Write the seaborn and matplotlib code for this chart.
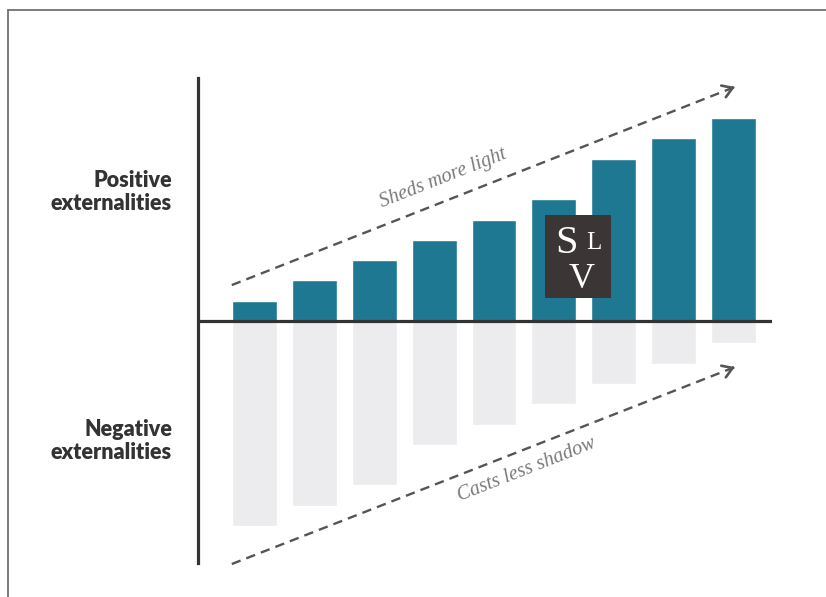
import numpy as np
import pandas as pd
import matplotlib.pyplot as plt
import seaborn as sns
from matplotlib.lines import Line2D
from matplotlib.patches import Rectangle

# data (units = bar steps)
steps = ['1', '2', '3', '4', '5', '6', '7', '8', '9']
positive = [1.0, 2.0, 3.0, 4.0, 5.0, 6.0, 8.0, 9.0, 10.0]
negative = [-10.1, -9.1, -8.1, -6.1, -5.1, -4.1, -3.1, -2.1, -1.1]

teal = '#1f7891'
shade = '#ececee'
ink = '#333333'

sns.set_style('white')
plt.rcParams['font.family'] = ['Lato', 'DejaVu Sans']

fig = plt.figure(figsize=(8.26, 5.97), dpi=100)
ax = fig.add_axes([198 / 826, 1 - 563 / 597, (772 - 198) / 826, (563 - 78) / 597])

df = pd.DataFrame({'step': steps, 'pos': positive, 'neg': negative})
sns.barplot(data=df, x='step', y='pos', color=teal, saturation=1, width=0.75, ax=ax)
sns.barplot(data=df, x='step', y='neg', color=shade, saturation=1, width=0.75, ax=ax)

ax.set_xlim(-0.94, 8.64)
ax.set_ylim(-11.92, 11.97)
ax.axhline(0, color=ink, lw=2.3, zorder=5)
for s in ['top', 'right', 'bottom']:
    ax.spines[s].set_visible(False)
ax.spines['left'].set_color(ink)
ax.spines['left'].set_linewidth(2.3)
ax.set_xticks([])
ax.set_yticks([])
ax.set_xlabel('')
ax.set_ylabel('')

# dashed trend arrows
dash_col = '#555555'
for (x0, y0), (x1, y1) in [((-0.376, 1.77), (8.02, 11.53)),
                           ((-0.376, -11.97), (8.02, -2.27))]:
    ax.plot([x0, x1], [y0, y1], color=dash_col, lw=1.7, ls=(0, (4, 2.6)),
            clip_on=False, zorder=4)
    dx, dy = (x1 - x0) * 0.004, (y1 - y0) * 0.004
    ax.annotate('', xy=(x1, y1), xytext=(x1 - dx, y1 - dy),
                arrowprops=dict(arrowstyle='->,head_length=0.7,head_width=0.45',
                                color=dash_col, lw=1.9),
                annotation_clip=False)

ax.text(3.15, 7.0, 'Sheds more light', rotation=21.5, rotation_mode='anchor',
        ha='center', va='center', fontsize=14.5, style='italic',
        family='Liberation Serif', color='#7a7a7a')
ax.text(4.55, -7.35, 'Casts less shadow', rotation=21.5, rotation_mode='anchor',
        ha='center', va='center', fontsize=14.5, style='italic',
        family='Liberation Serif', color='#7a7a7a')

# side labels
fig.text(172 / 826, 1 - 192 / 597, 'Positive\nexternalities', ha='right', va='center',
         fontsize=15.5, fontweight='heavy', color=ink, linespacing=1.1)
fig.text(172 / 826, 1 - 441 / 597, 'Negative\nexternalities', ha='right', va='center',
         fontsize=15.5, fontweight='heavy', color=ink, linespacing=1.1)

# logo box
fig.add_artist(Rectangle((545 / 826, 1 - 298 / 597), 66 / 826, 83 / 597,
                         transform=fig.transFigure, facecolor='#3b3536',
                         edgecolor='none', zorder=10))
fig.text(566 / 826, 1 - 244 / 597, 'S', ha='center', va='center', fontsize=29,
         family='Liberation Serif', color='white', zorder=11)
fig.text(594 / 826, 1 - 243 / 597, 'L', ha='center', va='center', fontsize=18,
         family='Liberation Serif', color='white', zorder=11)
fig.text(582 / 826, 1 - 279 / 597, 'V', ha='center', va='center', fontsize=26,
         family='Liberation Serif', color='white', zorder=11)

# thin frame of the original image
fig.add_artist(Line2D([8 / 826, 8 / 826], [0, 1 - 10 / 597], transform=fig.transFigure,
                      color='#666666', lw=1.2))
fig.add_artist(Line2D([8 / 826, 1], [1 - 10 / 597, 1 - 10 / 597], transform=fig.transFigure,
                      color='#666666', lw=1.2))

fig.savefig('out.png', dpi=100)
